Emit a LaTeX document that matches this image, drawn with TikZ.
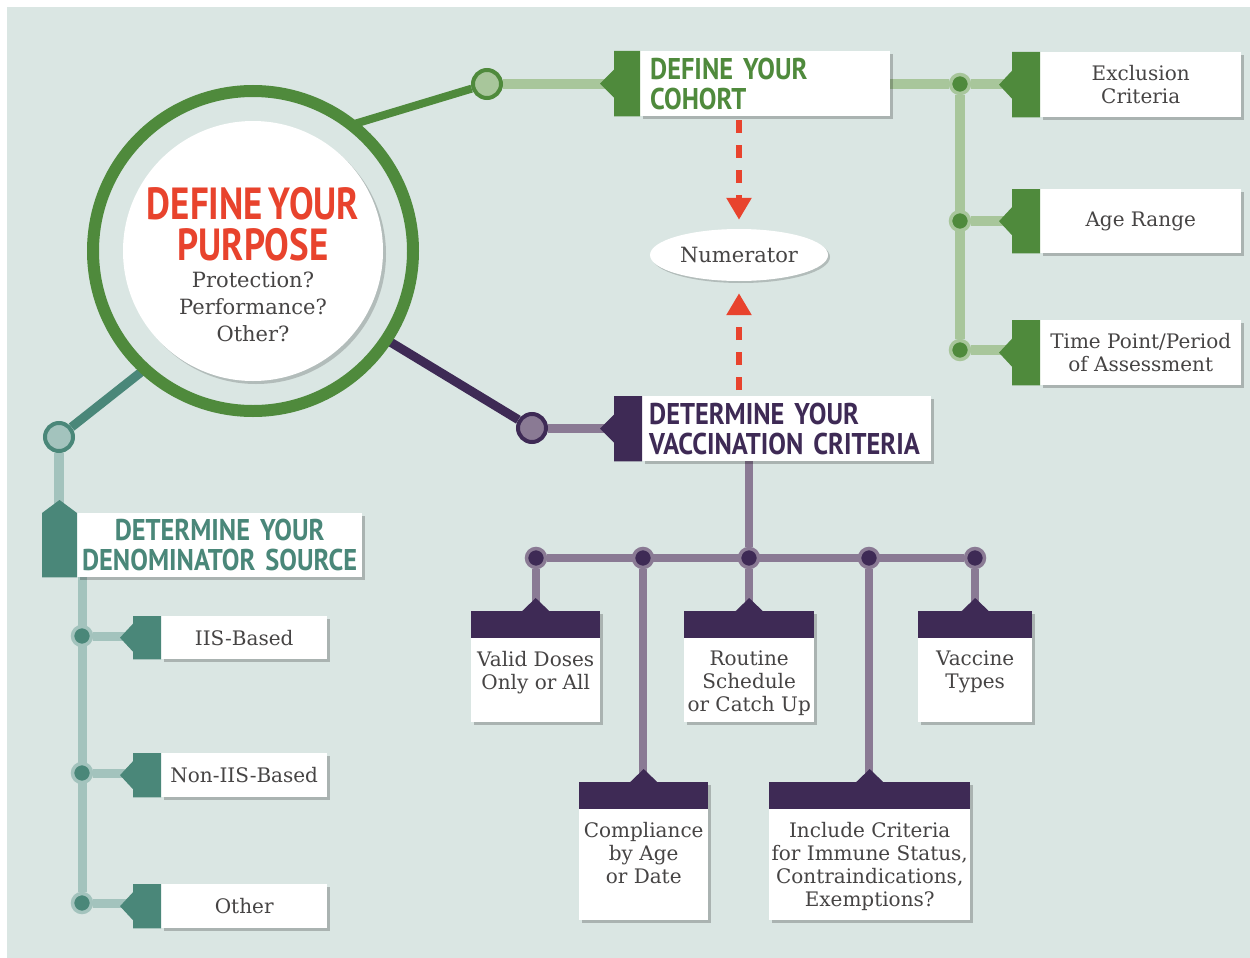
\documentclass[tikz,border=0pt]{standalone}
\usepackage{fontspec}
\setmainfont{DejaVu Serif}
\newfontfamily\headfont{PT Sans}[FakeStretch=0.82, WordSpace=0.65]
\newfontfamily\headfontw{PT Sans}[FakeStretch=0.88, WordSpace=0.65]
\usetikzlibrary{calc,shapes.geometric,shadows,arrows.meta}

\definecolor{bgc}{RGB}{218,230,227}
\definecolor{gdark}{RGB}{79,138,60}
\definecolor{glight}{RGB}{168,198,155}
\definecolor{pdark}{RGB}{62,42,85}
\definecolor{plight}{RGB}{138,122,148}
\definecolor{tdark}{RGB}{74,135,121}
\definecolor{tlight}{RGB}{163,195,189}
\definecolor{redc}{RGB}{232,67,45}
\definecolor{txtgray}{RGB}{70,68,68}

\pgfdeclarelayer{backdrop}
\pgfdeclarelayer{links}
\pgfsetlayers{backdrop,links,main}

\tikzset{
  wbox/.style={fill=white, inner sep=0pt,
    drop shadow={shadow xshift=2.5pt, shadow yshift=-2.5pt, opacity=0.22, fill=black}},
  bodytxt/.style={font=\fontsize{20}{23}\selectfont, text=txtgray, align=center},
  headtxt/.style={font=\headfontw\bfseries\fontsize{30}{30}\selectfont},
  headbig/.style={font=\headfont\bfseries\fontsize{45}{41}\selectfont},
  jdot/.style 2 args={circle, inner sep=0pt, minimum size=19pt, line width=3.5pt, fill=#1, draw=#2},
  hubcirc/.style 2 args={circle, inner sep=0pt, minimum size=28pt, line width=4pt, fill=#1, draw=#2},
  redarr/.style={draw=redc, line width=6.5pt, dash pattern=on 13pt off 12pt,
    -{Triangle[length=22pt,width=24pt]}}
}

\begin{document}
\begin{tikzpicture}[x=1pt, y=-1pt]
  \useasboundingbox (0,0) rectangle (1250,958);
  \begin{pgfonlayer}{backdrop}
    \fill[bgc] (7,7) rectangle (1250,958);
  \end{pgfonlayer}

  % purpose circle
  \node[circle, draw=gdark, line width=12pt, minimum size=320pt, inner sep=0pt] (ring) at (253,251) {};
  \node[circle, fill=white, minimum size=260pt, inner sep=0pt,
    drop shadow={shadow xshift=3pt, shadow yshift=-3pt, opacity=0.18, fill=black}] (purpose) at (253,251) {};
  \node[headbig, text=redc, align=center, anchor=north, inner sep=0pt] (ptitle) at (253,187) {DEFINE YOUR\\PURPOSE};
  \node[bodytxt, font=\fontsize{21}{27}\selectfont, anchor=north, inner sep=0pt] (pquest) at (253,272) {Protection?\\Performance?\\Other?};
  \coordinate (rg) at ($(ring.center)+(98,-126)$);
  \coordinate (rp) at ($(ring.center)+(134,89)$);
  \coordinate (rt) at ($(ring.center)+(-108,118)$);

  \node[hubcirc={glight}{gdark}] (gc) at (487,84) {};
  \node[hubcirc={plight}{pdark}] (pc) at (532,428) {};
  \node[hubcirc={tlight}{tdark}] (tc) at (59,437) {};

  % cohort
  \node[wbox, headtxt, text=gdark, anchor=north west, text width=230pt, inner xsep=10pt,
    minimum height=65pt, align=left] (cohort) at (640,51) {DEFINE YOUR\\COHORT};
  \fill[gdark] (cohort.north west) -- ++(-26,0) -- ($(cohort.west)+(-26,-14)$) -- ($(cohort.west)+(-40,0)$)
    -- ($(cohort.west)+(-26,14)$) |- (cohort.south west) -- cycle;
  \foreach \nm/\y/\h/\txt in {excl/52/65/{Exclusion\\Criteria}, age/189/64/{Age Range},
      timept/320/65/{Time Point/Period\\of Assessment}}{
    \node[wbox, bodytxt, anchor=north west, minimum width=201pt, minimum height=\h pt] (\nm) at (1040,\y) {\txt};
    \fill[gdark] (\nm.north west) -- ++(-28,0) -- ($(\nm.west)+(-28,-14)$) -- ($(\nm.west)+(-41,0)$)
      -- ($(\nm.west)+(-28,14)$) |- (\nm.south west) -- cycle;
  }
  \node[jdot={gdark}{glight}] (gd1) at (960,84) {};
  \node[jdot={gdark}{glight}] (gd2) at (960,221) {};
  \node[jdot={gdark}{glight}] (gd3) at (960,350) {};

  \node[ellipse, fill=white, minimum width=178pt, minimum height=52pt, inner sep=0pt, bodytxt,
    font=\fontsize{21}{24}\selectfont,
    drop shadow={shadow xshift=2pt, shadow yshift=-2pt, opacity=0.18, fill=black}] (numer) at (739,255) {Numerator};

  % vaccination criteria
  \node[wbox, headtxt, text=pdark, anchor=north west, text width=275pt, inner xsep=7pt,
    minimum height=65pt, align=left] (vacc) at (642,396) {DETERMINE YOUR\\VACCINATION CRITERIA};
  \fill[pdark] (vacc.north west) -- ++(-28,0) -- ($(vacc.west)+(-28,-14)$) -- ($(vacc.west)+(-42,0)$)
    -- ($(vacc.west)+(-28,14)$) |- (vacc.south west) -- cycle;
  \foreach \nm/\x/\y/\w/\h/\txt in {valid/471/611/129/111/{Valid Doses\\Only or All},
      routine/684/611/130/111/{Routine\\Schedule\\or Catch Up}, vtypes/918/611/114/111/{Vaccine\\Types},
      compl/579/782/129/138/{Compliance\\by Age\\or Date},
      incl/769/782/201/138/{Include Criteria\\for Immune Status,\\Contraindications,\\Exemptions?}}{
    \node[wbox, anchor=north west, minimum width=\w pt, minimum height=\h pt] (\nm) at (\x,\y) {};
    \fill[pdark] (\nm.north west) rectangle ($(\nm.north east)+(0,27)$);
    \fill[pdark] ($(\nm.north)+(-14,0.5)$) -- ($(\nm.north)+(0,-13)$) -- ($(\nm.north)+(14,0.5)$) -- cycle;
    \node[bodytxt, anchor=north, inner sep=0pt] (\nm-t) at ($(\nm.north)+(0,40)$) {\txt};
  }
  \foreach \nm/\x in {pd1/536, pd2/643, pd3/749, pd4/869, pd5/975}
    \node[jdot={pdark}{plight}] (\nm) at (\x,558) {};

  % denominator source
  \node[wbox, headtxt, text=tdark, anchor=north west, text width=285pt, minimum height=64pt,
    align=center] (denom) at (77,513) {DETERMINE YOUR\\DENOMINATOR SOURCE};
  \fill[tdark] (denom.north west) -- ++(-17.5,-13) -- ++(-17.5,13) |- (denom.south west) -- cycle;
  \foreach \nm/\y/\h/\txt in {iis/616/43/IIS-Based, noniis/753/44/Non-IIS-Based, othersrc/884/44/Other}{
    \node[wbox, bodytxt, anchor=north west, minimum width=166pt, minimum height=\h pt] (\nm) at (161,\y) {\txt};
    \fill[tdark] (\nm.north west) -- ++(-28,0) -- ($(\nm.west)+(-28,-14)$) -- ($(\nm.west)+(-41,0)$)
      -- ($(\nm.west)+(-28,14)$) |- (\nm.south west) -- cycle;
  }
  \node[jdot={tdark}{tlight}] (td1) at (82,636) {};
  \node[jdot={tdark}{tlight}] (td2) at (82,773) {};
  \node[jdot={tdark}{tlight}] (td3) at (82,903) {};

  % links
  \begin{pgfonlayer}{links}
    \draw[gdark, line width=8pt] (rg) -- (gc);
    \draw[pdark, line width=9pt] (rp) -- (pc);
    \draw[tdark, line width=9pt] (rt) -- (tc);
    \draw[glight, line width=10pt] (gc) -- (gc -| cohort.west);
    \draw[plight, line width=9pt] (pc) -- (pc -| vacc.west);
    \draw[tlight, line width=10pt] (tc) -- (tc |- denom.north);
    \draw[glight, line width=10pt] (gd1 -| cohort.east) -- (gd1) -- (gd1 -| excl.west)
      (gd1) -- (gd3) (gd2) -- (gd2 -| age.west) (gd3) -- (gd3 -| timept.west);
    \draw[plight, line width=8pt] (pd3 |- vacc.south) -- (pd3) (pd1) -- (pd5);
    \foreach \d/\b in {pd1/valid, pd2/compl, pd3/routine, pd4/incl, pd5/vtypes}
      \draw[plight, line width=8pt] (\d) -- (\d |- \b.north);
    \draw[tlight, line width=9pt] (td1 |- denom.south) -- (td3)
      (td1) -- (td1 -| iis.west) (td2) -- (td2 -| noniis.west) (td3) -- (td3 -| othersrc.west);
  \end{pgfonlayer}

  \draw[redarr, shorten <=4pt, shorten >=9pt] (cohort.south -| numer) -- (numer.north);
  \draw[redarr, shorten <=6pt, shorten >=12pt] (vacc.north -| numer) -- (numer.south);
\end{tikzpicture}
\end{document}
